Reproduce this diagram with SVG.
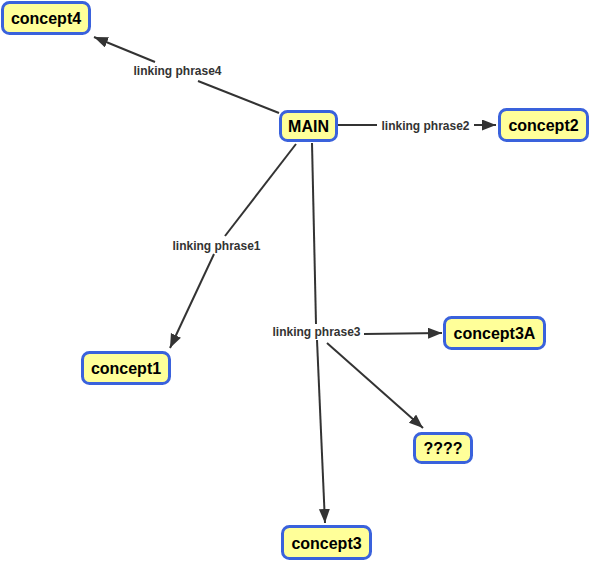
<svg xmlns="http://www.w3.org/2000/svg" width="590" height="562" viewBox="0 0 590 562">
<defs>
<style>
.node rect{fill:#ffff99;stroke:#3a62dc;stroke-width:3}
.node text{font-family:"Liberation Sans",Arial,sans-serif;font-weight:bold;font-size:16px;fill:#000;text-anchor:middle}
.lbl{font-family:"Liberation Sans",Arial,sans-serif;font-weight:bold;font-size:12px;fill:#333;text-anchor:middle}
.conn line{stroke:#333;stroke-width:2}
</style>
<marker id="ah" markerUnits="userSpaceOnUse" markerWidth="15" markerHeight="12" refX="14" refY="5.5" orient="auto">
<path d="M0,0 L14,5.5 L0,11 z" fill="#333"/>
</marker>
</defs>
<rect width="590" height="562" fill="#fff"/>
<g id="connectors" class="conn">
<line x1="279" y1="113" x2="198" y2="81"/>
<line x1="155" y1="62" x2="94" y2="37" marker-end="url(#ah)"/>
<line x1="338" y1="125" x2="377" y2="125"/>
<line x1="474" y1="125" x2="496" y2="125" marker-end="url(#ah)"/>
<line x1="296" y1="144" x2="225" y2="236"/>
<line x1="214" y1="254" x2="170" y2="348" marker-end="url(#ah)"/>
<line x1="312" y1="143" x2="316" y2="324"/>
<line x1="317" y1="340" x2="325" y2="523" marker-end="url(#ah)"/>
<line x1="364" y1="334" x2="442" y2="333" marker-end="url(#ah)"/>
<line x1="327" y1="343" x2="423" y2="428" marker-end="url(#ah)"/>
<text class="lbl" x="177.5" y="74.5">linking phrase4</text>
<text class="lbl" x="425.5" y="129.5">linking phrase2</text>
<text class="lbl" x="216.5" y="249.5">linking phrase1</text>
<text class="lbl" x="316.5" y="335.5">linking phrase3</text>
</g>
<g id="concept4" class="node"><rect x="2.5" y="2.5" width="87" height="31" rx="7"/><text x="46" y="23.5">concept4</text></g>
<g id="main" class="node"><rect x="280.5" y="111.5" width="56" height="29" rx="7"/><text x="308.5" y="131.5">MAIN</text></g>
<g id="concept2" class="node"><rect x="499.5" y="109.5" width="88" height="31" rx="7"/><text x="543.5" y="131">concept2</text></g>
<g id="concept1" class="node"><rect x="82.5" y="352.5" width="87" height="31" rx="7"/><text x="126" y="374">concept1</text></g>
<g id="concept3A" class="node"><rect x="444.5" y="317.5" width="100" height="31" rx="7"/><text x="494.5" y="339">concept3A</text></g>
<g id="unknown" class="node"><rect x="414.5" y="433.5" width="57" height="29" rx="7"/><text x="443" y="454">????</text></g>
<g id="concept3" class="node"><rect x="282.5" y="526.5" width="88" height="32" rx="7"/><text x="326.5" y="548.5">concept3</text></g>
</svg>
